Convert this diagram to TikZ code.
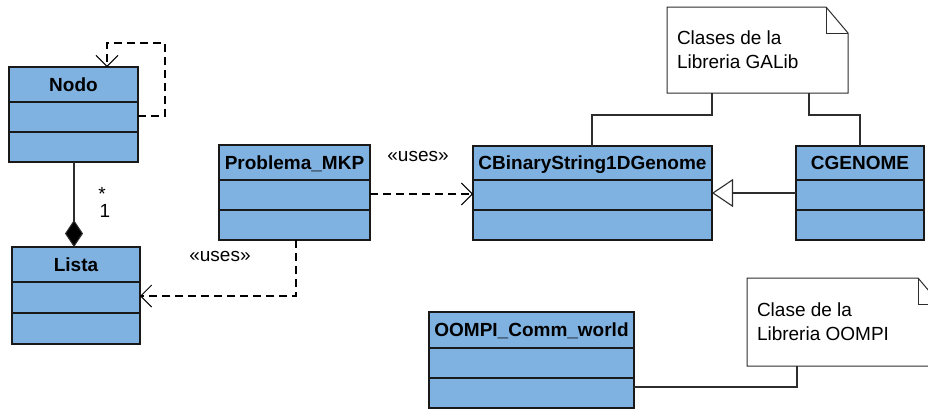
\documentclass[tikz,border=0pt]{standalone}
\usepackage{fontspec}
\setmainfont{Liberation Sans}
\usetikzlibrary{arrows.meta,calc}

\definecolor{classblue}{RGB}{127,178,225}
\definecolor{edgegray}{RGB}{45,45,45}

\tikzset{
  txt/.style={font=\fontsize{19}{24}\selectfont, inner sep=0pt, outer sep=0pt},
  classbox/.style={draw=black!90, fill=classblue, line width=1.6pt,
    inner sep=0pt, outer sep=0pt, anchor=north west},
  compartment/.style={draw=black!90, line width=1.6pt},
  classtitle/.style={txt, font=\fontsize{19}{24}\selectfont\bfseries, anchor=base},
  notebox/.style={inner sep=0pt, outer sep=0pt, anchor=north west},
  noteline/.style={draw=edgegray, line width=1pt, fill=white, line join=miter},
  notetext/.style={txt, anchor=base west},
  anchorline/.style={draw=edgegray, line width=1.1pt},
  usesdep/.style={draw=black, line width=1.8pt, dash pattern=on 8pt off 5pt,
    -{Straight Barb[length=11pt, width=22pt, line width=1pt, sharp]}},
  compos/.style={draw=edgegray, line width=1.1pt,
    -{Diamond[length=27pt, width=18pt, fill=black]}},
  generaliz/.style={draw=edgegray, line width=1.1pt,
    -{Triangle[open, length=21pt, width=28pt, fill=white, line width=1.1pt]}},
}

% class box: name, x1, y1, x2, y2, first divider, second divider, title
\newcommand{\umlclass}[8]{%
  \node[classbox, minimum width={(#4-#2)*1pt}, minimum height={(#5-#3)*1pt}] (#1) at (#2,#3) {};
  \draw[compartment] (#2,#6) -- (#4,#6) (#2,#7) -- (#4,#7);
  \node[classtitle] (#1-title) at ({(#2+#4)/2},{(#3+#6)/2+6.8}) {#8};
}

% note with a folded corner: name, x1, y1, x2, y2
\newcommand{\umlnote}[5]{%
  \node[notebox, minimum width={(#4-#2)*1pt}, minimum height={(#5-#3)*1pt}] (#1) at (#2,#3) {};
  \draw[noteline] (#1.north west) -- ([xshift=-22pt]#1.north east)
    -- ([yshift=-26pt]#1.north east) -- (#1.south east) -- (#1.south west) -- cycle;
  \draw[noteline, fill=none] ([xshift=-22pt]#1.north east)
    -- ([xshift=-22pt, yshift=-26pt]#1.north east) -- ([yshift=-26pt]#1.north east);
}

\begin{document}
\begin{tikzpicture}[x=1pt, y=-1pt]
  \clip (0,0) rectangle (928,410);
  \fill[white] (0,0) rectangle (928,410);

  % classes
  \umlclass{nodo}{9}{67}{138}{162}{102}{132}{Nodo}
  \umlclass{lista}{12}{247}{140}{344}{282}{313}{Lista}
  \umlclass{prob}{219}{145}{370}{240}{180}{210}{Problema\_MKP}
  \umlclass{cbin}{473}{146}{712}{240}{180}{210}{CBinaryString1DGenome}
  \umlclass{cgen}{796}{146}{924}{240}{180}{210}{CGENOME}
  \umlclass{oompi}{429}{312}{634}{408}{348}{378}{OOMPI\_Comm\_world}

  % notes
  \umlnote{galib}{667}{7}{848}{93}
  \node[notetext] (galib-l1) at (677,44) {Clases de la};
  \node[notetext] (galib-l2) at (677,68) {Libreria GALib};
  \umlnote{mpi}{747}{278}{940}{366}
  \node[notetext] (mpi-l1) at (757,316) {Clase de la};
  \node[notetext] (mpi-l2) at (757,340) {Libreria OOMPI};

  % self dependency of Nodo
  \draw[usesdep] (nodo.east |- 0,116) -- (165,116) -- (165,43) -- (107,43)
    -- (107,0 |- nodo.north);

  % composition Nodo -- Lista
  \draw[compos] (74,0 |- nodo.south) -- (74,0 |- lista.north);
  \node[txt] (mult-star) at (102,194) {*};
  \node[txt, anchor=base] (mult-one) at (105,217) {1};

  % dependencies of Problema_MKP
  \draw[usesdep] (prob.east |- 0,194) -- (cbin.west |- 0,194);
  \node[txt, anchor=base] (uses-a) at (418,161) {«uses»};
  \draw[usesdep] (296,0 |- prob.south) |- (lista.east |- 0,296);
  \node[txt, anchor=base] (uses-b) at (220,261) {«uses»};

  % generalization CGENOME -> CBinaryString1DGenome
  \draw[generaliz] (cgen.west |- 0,193) -- (cbin.east |- 0,193);

  % note anchors
  \draw[anchorline] (galib.south -| 712,0) |- (592,115) -- (592,0 |- cbin.north);
  \draw[anchorline] (galib.south -| 809,0) |- (860,115) -- (860,0 |- cgen.north);
  \draw[anchorline] (mpi.south -| 797,0) |- (oompi.east |- 0,387);
\end{tikzpicture}
\end{document}
